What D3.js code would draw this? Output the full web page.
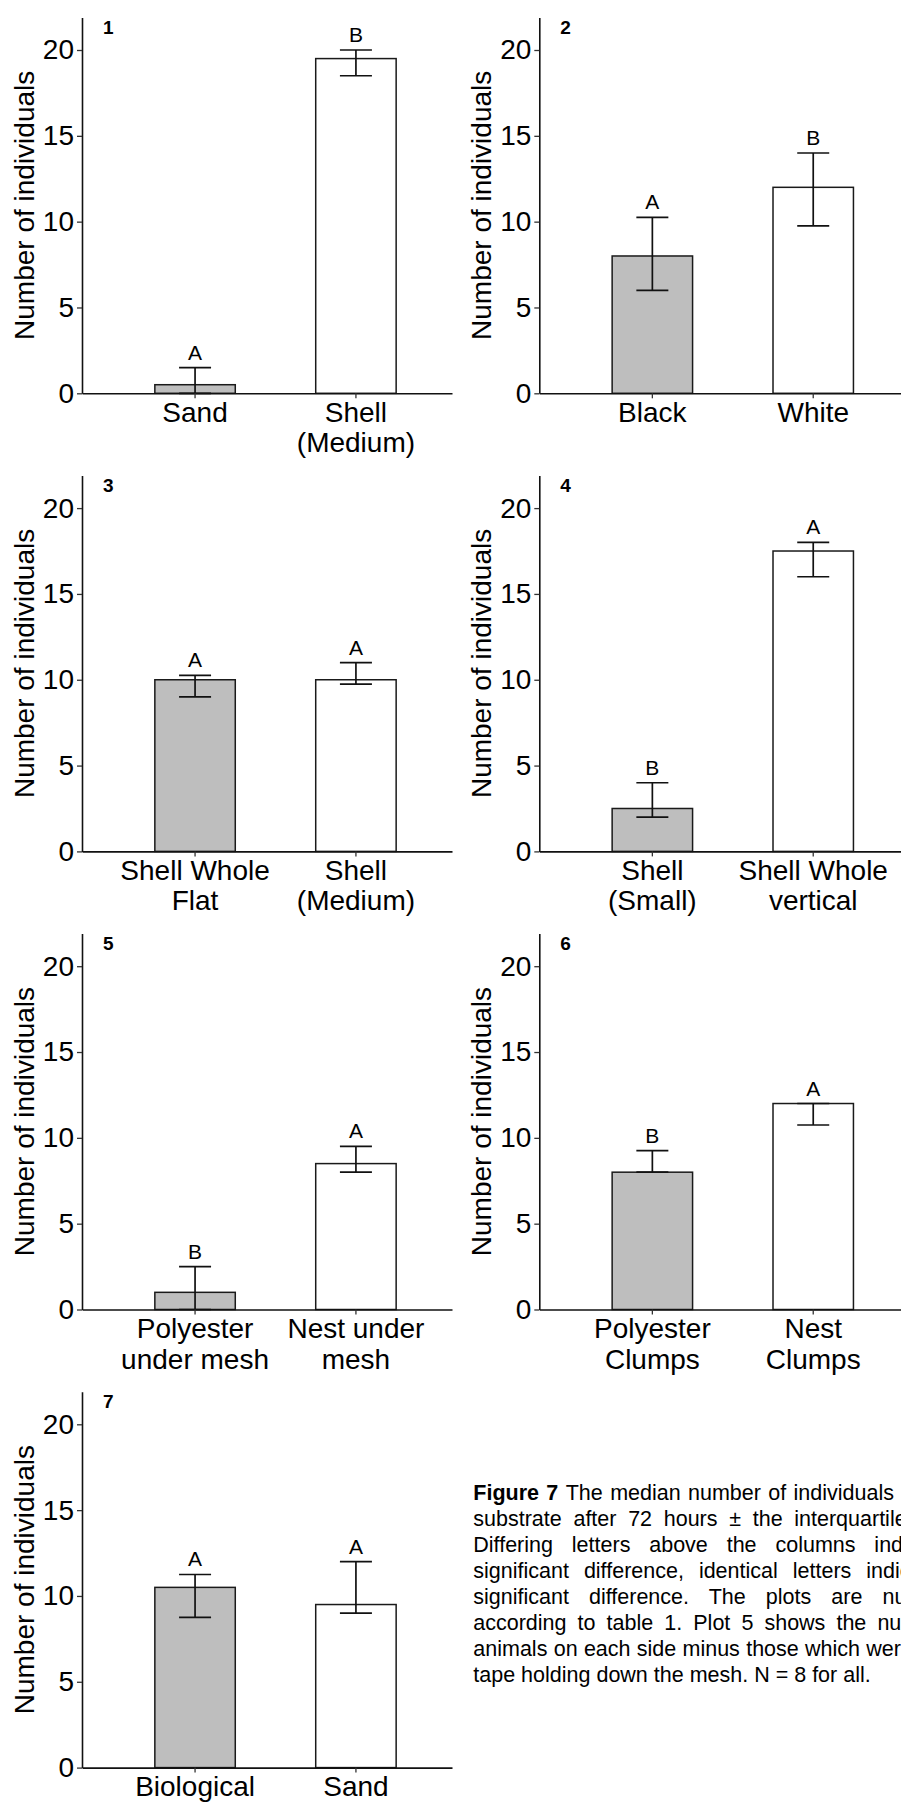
<!DOCTYPE html>
<meta charset="utf-8">
<head>
<style>
  body { margin: 0; background: #fff; }
  svg text { font-family: "Liberation Sans", Arial, sans-serif; fill: #000; }
</style>
</head>
<body>
<script src="https://d3js.org/d3.v7.min.js"></script>
<div id="my_dataviz"></div>

<script>
    // one entry per plot, numbered as in table 1
    var panelNumbers = ["1", "2", "3", "4", "5", "6", "7"];
    var categories = [
        ["Sand", "Shell\n(Medium)"],
        ["Black", "White"],
        ["Shell Whole\nFlat", "Shell\n(Medium)"],
        ["Shell\n(Small)", "Shell Whole\nvertical"],
        ["Polyester\nunder mesh", "Nest under\nmesh"],
        ["Polyester\nClumps", "Nest\nClumps"],
        ["Biological", "Sand"]
    ];
    // median number of individuals
    var medians = [[0.5, 19.5], [8, 12], [10, 10], [2.5, 17.5], [1, 8.5], [8, 12], [10.5, 9.5]];
    // interquartile range, lower and upper
    var lowerQ = [[0, 18.5], [6, 9.75], [9, 9.75], [2, 16], [0, 8], [8, 10.75], [8.75, 9]];
    var upperQ = [[1.5, 20], [10.25, 14], [10.25, 11], [4, 18], [2.5, 9.5], [9.25, 12], [11.25, 12]];
    var letters = [["A", "B"], ["A", "B"], ["A", "A"], ["B", "A"], ["B", "A"], ["B", "A"], ["A", "A"]];
    var yTicks = [0, 5, 10, 15, 20];
    var yTitle = "Number of individuals";

    var captionLines = [
        "The median number of individuals on each",
        "substrate after 72 hours \u00b1 the interquartile range.",
        "Differing letters above the columns indicate a",
        "significant difference, identical letters indicate no",
        "significant difference. The plots are numbered",
        "according to table 1. Plot 5 shows the number of",
        "animals on each side minus those which were on the",
        "tape holding down the mesh. N = 8 for all."
    ];

    var width = 901, height = 1803;
    var colStep = 457.3, rowStep = 458.1;
    var axisLeft = 82, baseline0 = 393.3, plotWidth = 370;
    var unit = 17.165, yMax = 21.9;
    var barFill = ["#bebebe", "#ffffff"];

    var svg = d3.select("#my_dataviz")
      .append("svg")
        .attr("width", width)
        .attr("height", height);

    svg.append("rect")
        .attr("width", width)
        .attr("height", height)
        .attr("fill", "#fff");

    panelNumbers.forEach(function(num, p) {
      var col = p % 2, row = Math.floor(p / 2);
      var ox = axisLeft + col * colStep;
      var base = baseline0 + row * rowStep;
      var top = base - yMax * unit;

      var y = d3.scaleLinear()
        .domain([0, yMax])
        .range([base, top]);

      var x = d3.scaleBand()
        .domain([0, 1])
        .range([ox, ox + plotWidth])
        .paddingInner(0.5)
        .paddingOuter(0.4)
        .align(0.566);

      var g = svg.append("g");

      // bars
      g.selectAll("rect.bar")
        .data([0, 1])
        .enter().append("rect")
          .attr("class", "bar")
          .attr("x", function(i) { return x(i); })
          .attr("y", function(i) { return y(medians[p][i]); })
          .attr("width", x.bandwidth())
          .attr("height", function(i) { return base - y(medians[p][i]); })
          .attr("fill", function(i) { return barFill[i]; })
          .attr("stroke", "#1a1a1a")
          .attr("stroke-width", 1.5);

      // error bars (interquartile range)
      var capHalf = 16;
      var eb = g.selectAll("g.err")
        .data([0, 1])
        .enter().append("g")
          .attr("class", "err")
          .attr("stroke", "#111")
          .attr("stroke-width", 1.7);
      eb.append("line")
          .attr("x1", function(i) { return x(i) + x.bandwidth() / 2; })
          .attr("x2", function(i) { return x(i) + x.bandwidth() / 2; })
          .attr("y1", function(i) { return y(lowerQ[p][i]); })
          .attr("y2", function(i) { return y(upperQ[p][i]); });
      eb.append("line")
          .attr("x1", function(i) { return x(i) + x.bandwidth() / 2 - capHalf; })
          .attr("x2", function(i) { return x(i) + x.bandwidth() / 2 + capHalf; })
          .attr("y1", function(i) { return y(upperQ[p][i]); })
          .attr("y2", function(i) { return y(upperQ[p][i]); });
      eb.append("line")
          .attr("x1", function(i) { return x(i) + x.bandwidth() / 2 - capHalf; })
          .attr("x2", function(i) { return x(i) + x.bandwidth() / 2 + capHalf; })
          .attr("y1", function(i) { return y(lowerQ[p][i]); })
          .attr("y2", function(i) { return y(lowerQ[p][i]); });

      // significance letters
      g.selectAll("text.sig")
        .data([0, 1])
        .enter().append("text")
          .attr("class", "sig")
          .attr("x", function(i) { return x(i) + x.bandwidth() / 2; })
          .attr("y", function(i) { return y(upperQ[p][i]) - 8; })
          .attr("text-anchor", "middle")
          .attr("font-size", "21px")
          .text(function(i) { return letters[p][i]; });

      // Y axis
      var yAxis = g.append("g")
        .attr("transform", "translate(" + ox + ",0)")
        .call(d3.axisLeft(y).tickValues(yTicks).tickSize(5).tickSizeOuter(0).tickPadding(3));
      yAxis.select(".domain").attr("stroke", "#111").attr("stroke-width", 1.6);
      yAxis.selectAll(".tick line").attr("stroke", "#333").attr("stroke-width", 1.3);
      yAxis.selectAll(".tick text")
        .attr("font-size", "28px")
        .attr("font-family", "Liberation Sans, Arial, sans-serif")
        .attr("fill", "#000");

      // X axis
      var xAxis = g.append("g")
        .attr("transform", "translate(0," + base + ")")
        .call(d3.axisBottom(x).tickSize(5).tickSizeOuter(0).tickPadding(3.5));
      xAxis.select(".domain").attr("stroke", "#111").attr("stroke-width", 1.6);
      xAxis.selectAll(".tick line").attr("stroke", "#333").attr("stroke-width", 1.3);
      xAxis.selectAll(".tick text")
        .attr("font-size", "28px")
        .attr("font-family", "Liberation Sans, Arial, sans-serif")
        .attr("fill", "#000")
        .each(function(i) {
          var t = d3.select(this).text(null);
          categories[p][i].split("\n").forEach(function(line, k) {
            t.append("tspan")
              .attr("x", 0)
              .attr("dy", k === 0 ? null : "30.7px")
              .text(line);
          });
        });

      // Y title
      g.append("text")
        .attr("transform", "translate(" + (ox - 48.5) + "," + ((base + top) / 2) + ") rotate(-90)")
        .attr("text-anchor", "middle")
        .attr("font-size", "28px")
        .text(yTitle);

      // plot number
      g.append("text")
        .attr("x", ox + 21)
        .attr("y", top + 16.5)
        .attr("font-size", "19px")
        .attr("font-weight", "bold")
        .text(num);
    });

    // figure caption, justified lines (the page edge cuts them, as in the source)
    var capX = 473.3, capY = 1500, capLine = 26, capWidth = 506;
    captionLines.forEach(function(line, k) {
      var t = svg.append("text")
        .attr("x", capX)
        .attr("y", capY + k * capLine)
        .attr("font-size", "21.5px")
        .attr("xml:space", "preserve");
      if (k === 0) {
        t.append("tspan").attr("font-weight", "bold").text("Figure 7 ");
      }
      t.append("tspan").text(line);
      if (k < captionLines.length - 1) {
        var spaces = (k === 0 ? line + " 7 " : line).split(" ").length - 1;
        var natural = t.node().getComputedTextLength();
        t.attr("word-spacing", ((capWidth - natural) / spaces) + "px");
      }
    });
</script>
</body>
